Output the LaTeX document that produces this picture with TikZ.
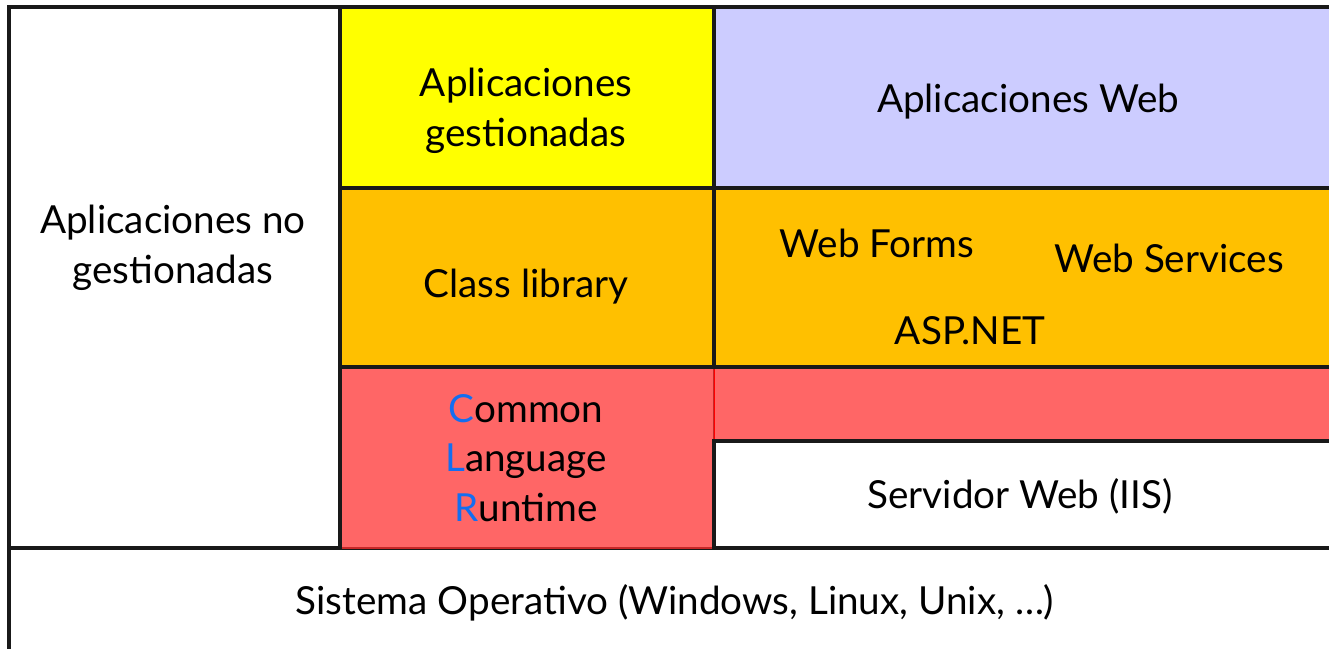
\documentclass[tikz,border=0pt]{standalone}
\usepackage{fontspec}
\setmainfont{Lato}
\definecolor{capaAmarilla}{RGB}{255,255,0}
\definecolor{capaLila}{RGB}{204,204,255}
\definecolor{capaNaranja}{RGB}{255,192,0}
\definecolor{capaRoja}{RGB}{255,102,102}
\definecolor{capaRojaBorde}{RGB}{200,40,40}
\definecolor{letraAzul}{RGB}{20,110,240}
\tikzset{
  capa/.style={draw=black!90, line width=2pt},
  texto/.style={align=center, font=\fontsize{22pt}{28.3pt}\selectfont, inner sep=0pt},
}
\newcommand{\azul}[1]{\textcolor{letraAzul}{#1}}
\begin{document}
\begin{tikzpicture}[x=0.02cm, y=-0.02cm]
			\useasboundingbox (0,0) rectangle (1329,649);
			\clip (0,0) rectangle (1329,649);
			\fill[white] (0,0) rectangle (1329,649);
			
			\draw[capa, fill=white] (9,548) rectangle (1360,720);
			\node[texto] (sistema) at (675,603) {Sistema Operativo (Windows, Linux, Unix, \dots)};
			
			\draw[fill=capaRoja, draw=capaRojaBorde, line width=1pt] (340,367) rectangle (714,548);
			\draw[fill=capaRoja, draw=red, line width=0.4pt] (714,367) rectangle (1360,441);
			\node[texto] (clr) at (526,458) {\azul{C}ommon\\ \azul{L}anguage\\ \azul{R}untime};
			
			\draw[capa, fill=white] (714,441) rectangle (1360,548);
			\node[texto] (servidor) at (1020,496) {Servidor Web (IIS)};
			
			\draw[capa, fill=white] (9,7) rectangle (340,548);
			\node[texto] (aplicNo) at (173,248) {Aplicaciones no\\ gestionadas};
			
			\draw[capa, fill=capaAmarilla] (340,7) rectangle (714,188);
			\node[texto] (aplicGest) at (526,111) {Aplicaciones\\ gestionadas};
			
			\draw[capa, fill=capaLila] (714,7) rectangle (1360,188);
			\node[texto] (aplicWeb) at (1028,102) {Aplicaciones Web};
			
			\draw[capa, fill=capaNaranja] (340,188) rectangle (714,367);
			\node[texto] (classLib) at (526,287) {Class library};
			
			\draw[capa, fill=capaNaranja] (714,188) rectangle (1360,367);
			\node[texto] (webForms) at (877,243) {Web Forms};
			\node[texto] (webServ) at (1169,258) {Web Services};
			\node[texto] (aspnet) at (970,331) {ASP.NET};
\end{tikzpicture}
\end{document}
